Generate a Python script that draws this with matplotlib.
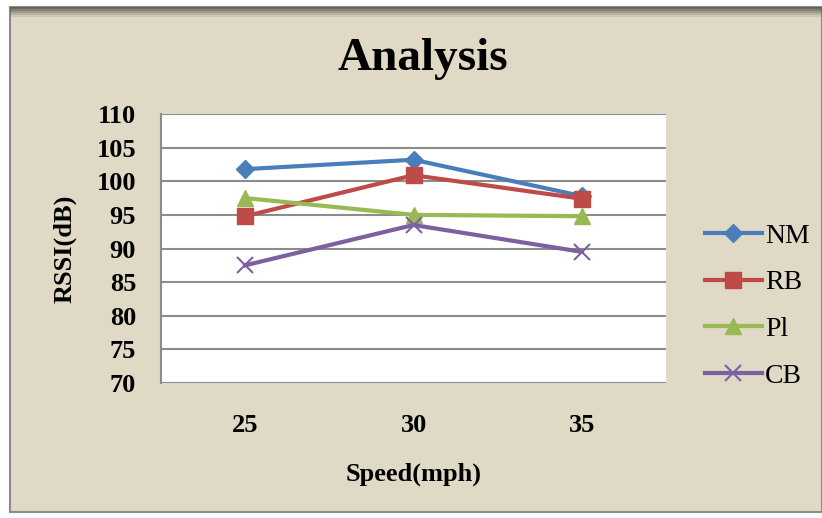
import matplotlib.pyplot as plt
from matplotlib.patches import Rectangle

speeds = ["25", "30", "35"]
nm = [101.8, 103.2, 97.8]
rb = [94.8, 100.9, 97.4]
pl = [97.5, 95.0, 94.8]
cb = [87.5, 93.5, 89.5]
yticks = [70, 75, 80, 85, 90, 95, 100, 105, 110]

plt.rcParams['font.family'] = ['Liberation Serif', 'DejaVu Serif']

fig = plt.figure(figsize=(8.22, 5.18), dpi=100)
fig.patch.set_facecolor("white")

# beige chart area with a gray frame and a darker shadow at the top
fig.patches.append(Rectangle((10/822, 6/518), 812/822, 505/518, transform=fig.transFigure,
                             facecolor="#DFD9C5", edgecolor="#8C8C8C", lw=1.5, zorder=-2))
for i, a in enumerate([0.9, 0.7, 0.5, 0.3, 0.15]):
    fig.patches.append(Rectangle((10/822, 1 - (9 + 2*i)/518), 812/822, 2/518,
                                 transform=fig.transFigure, facecolor="#5E5E50",
                                 edgecolor="none", alpha=a, zorder=-1))

ax = fig.add_axes([161/822, 1 - 383/518, 505/822, 269/518])
ax.set_facecolor("white")
ax.set_zorder(1)

x = range(len(speeds))
ax.plot(x, nm, color="#4A7EBB", lw=3, marker="D", ms=9, label="NM", zorder=3)
ax.plot(x, rb, color="#BE4B48", lw=3, marker="s", ms=11, label="RB", zorder=3)
ax.plot(x, pl, color="#98B954", lw=3, marker="^", ms=11, label="Pl", zorder=3)
ax.plot(x, cb, color="#7D60A0", lw=3, marker="x", ms=11, mew=1.5, label="CB", zorder=3)

ax.set_xlim(-0.5, 2.5)
ax.set_ylim(70, 110)
ax.set_yticks(yticks)
ax.set_xticks(list(x))
ax.set_xticklabels(speeds)
ax.yaxis.grid(True, color="#8C8C8C", lw=1.5)
ax.set_axisbelow(True)
for s in ["top", "right", "bottom"]:
    ax.spines[s].set_visible(False)
ax.spines["left"].set_color("#8C8C8C")
ax.spines["left"].set_linewidth(1.5)
ax.tick_params(length=0)
ax.tick_params(axis="x", pad=22)
ax.tick_params(axis="y", pad=18)
for lab in ax.get_xticklabels() + ax.get_yticklabels():
    lab.set_fontsize(19)
    lab.set_fontweight("bold")

ax.set_xlabel("Speed(mph)", fontsize=19, fontweight="bold", labelpad=19)
ax.set_ylabel("RSSI(dB)", fontsize=19, fontweight="bold", labelpad=14)
fig.text(423/822, 1 - 59/518, "Analysis", ha="center", va="center", fontsize=34, fontweight="bold")

fig.legend(loc="center left", bbox_to_anchor=(680/822, 1 - 306/518), frameon=False,
           fontsize=20, labelspacing=0.76, handlelength=2.05, handletextpad=0.1)

fig.savefig("out.png", dpi=100, facecolor=fig.get_facecolor())
